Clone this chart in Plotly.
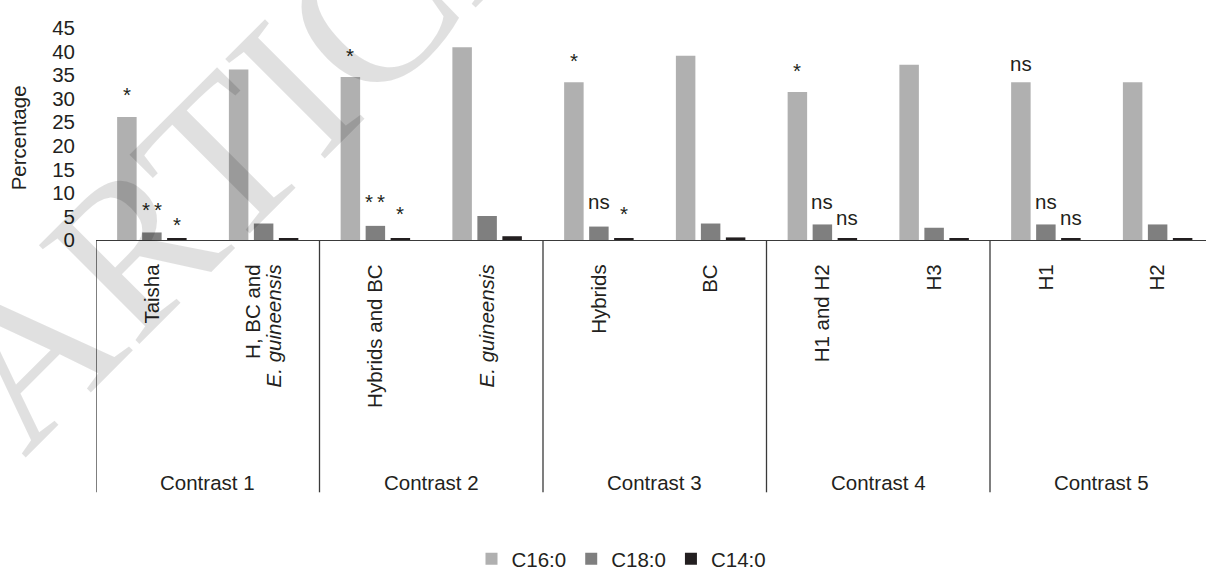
import plotly.graph_objects as go

# Fatty acid percentages by comparison group
categories = [
    "Taisha",
    "H, BC and<br><i>E. guineensis</i>",
    "Hybrids and BC",
    "<i>E. guineensis</i>",
    "Hybrids",
    "BC",
    "H1 and H2",
    "H3",
    "H1",
    "H2",
]
contrasts = ["Contrast 1", "Contrast 2", "Contrast 3", "Contrast 4", "Contrast 5"]

series_names = ["C16:0", "C18:0", "C14:0"]
c16_0 = [26.1, 36.2, 34.6, 40.9, 33.5, 39.1, 31.4, 37.2, 33.5, 33.5]
c18_0 = [1.6, 3.5, 3.0, 5.1, 2.85, 3.5, 3.3, 2.6, 3.3, 3.3]
c14_0 = [0.35, 0.35, 0.3, 0.8, 0.35, 0.55, 0.3, 0.3, 0.3, 0.3]

y_ticks = [0, 5, 10, 15, 20, 25, 30, 35, 40, 45]

# Significance marks: (category index, series index, text, lift above bar in px)
two_star = "*\u2009*"
marks = [
    (0, 0, "*", 23), (0, 1, two_star, 23), (0, 2, "*", 14),
    (2, 0, "*", 22), (2, 1, two_star, 24), (2, 2, "*", 25),
    (4, 0, "*", 22), (4, 1, "ns", 25), (4, 2, "*", 25),
    (6, 0, "*", 22), (6, 1, "ns", 23), (6, 2, "ns", 21),
    (8, 0, "ns", 19), (8, 1, "ns", 23), (8, 2, "ns", 21),
]

colors = ["#b0b0b0", "#7f7f7f", "#231f20"]
text_color = "#231f20"
font_family = "Liberation Sans, Arial, sans-serif"
fs = 20.5

W, H = 1206, 579
left, top, bottom_px = 96, 27.5, 243.7
slot_px = 111.75

x_idx = list(range(len(categories)))
all_series = [c16_0, c18_0, c14_0]

fig = go.Figure()
for name, vals, col in zip(series_names, all_series, colors):
    fig.add_trace(go.Bar(name=name, x=x_idx, y=vals, marker=dict(color=col, line=dict(width=0))))

plot_h = bottom_px - top
x_end = -0.5 + (W - left) / slot_px

def py(px):
    # pixel row -> paper y
    return (bottom_px - px) / plot_h

def px_x(px):
    return (px - left) / (W - left)

# Tick labels: wrapped labels get one tick per line so the line spacing stays tight
line_step = 21 / slot_px
tick_vals, tick_text = [], []
for i, cat in enumerate(categories):
    parts = cat.split("<br>")
    n = len(parts)
    for k, part in enumerate(parts):
        tick_vals.append(i + (k - (n - 1) / 2) * line_step)
        tick_text.append(part)

shapes = []
for b in range(len(contrasts) + 1):
    xb = -0.5 + 2 * b
    shapes.append(dict(type="line", xref="x", yref="paper", x0=xb, x1=xb,
                       y0=0, y1=py(501), line=dict(color="#3a3a3a", width=1.3)))

annotations = []
for g, label in enumerate(contrasts):
    annotations.append(dict(text=label, xref="x", yref="paper", x=2 * g + 0.5, y=py(491),
                            showarrow=False, xanchor="center", yanchor="middle",
                            font=dict(size=fs, color=text_color, family=font_family)))

offsets = [-0.224, 0.0, 0.224]
for ci, si, txt, lift in marks:
    annotations.append(dict(text=txt, xref="x", yref="y", x=ci + offsets[si], y=all_series[si][ci],
                            showarrow=False, xanchor="center", yanchor="middle", yshift=lift,
                            font=dict(size=fs, color=text_color, family=font_family)))

annotations.append(dict(text="Percentage", xref="paper", yref="paper", x=px_x(18), y=py(140),
                        textangle=-90, showarrow=False, xanchor="center", yanchor="middle",
                        font=dict(size=fs, color=text_color, family=font_family)))

# Watermark
annotations.append(dict(text="ARTICLE IN PRESS", xref="paper", yref="paper",
                        x=px_x(631), y=py(-257), textangle=-45, showarrow=False,
                        xanchor="center", yanchor="middle",
                        font=dict(size=215, color="rgba(0,0,0,0.12)",
                                  family="Liberation Serif, Times New Roman, serif")))

fig.update_layout(
    width=W, height=H,
    margin=dict(l=left, r=0, t=top, b=H - bottom_px, pad=0),
    paper_bgcolor="white", plot_bgcolor="white",
    barmode="group", bargap=0.329, bargroupgap=0.22,
    showlegend=True,
    legend=dict(orientation="h", x=px_x(621.5), xanchor="center", y=py(569), yanchor="middle",
                font=dict(size=fs, color=text_color, family=font_family),
                bgcolor="rgba(0,0,0,0)", traceorder="normal"),
    xaxis=dict(range=[-0.5, x_end], tickmode="array", tickvals=tick_vals, ticktext=tick_text,
               tickangle=-90, ticks="", showgrid=False, zeroline=False,
               showline=True, linecolor="#3a3a3a", linewidth=1.3,
               ticklabelstandoff=15,
               tickfont=dict(size=fs, color=text_color, family=font_family)),
    yaxis=dict(range=[0, 45], tickmode="array", tickvals=y_ticks, ticks="", showgrid=False,
               zeroline=False, showline=False, ticklabelstandoff=20,
               tickfont=dict(size=fs, color=text_color, family=font_family)),
    shapes=shapes,
    annotations=annotations,
    font=dict(family=font_family, color=text_color),
)

fig.write_html("out.html")
